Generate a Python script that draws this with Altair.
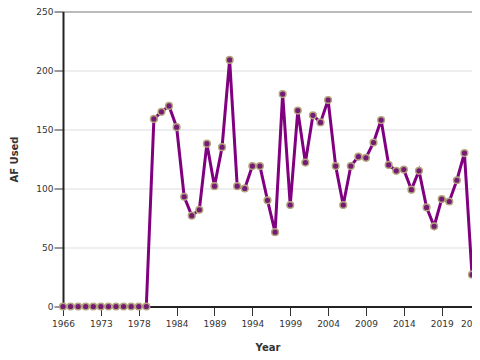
import altair as alt
import pandas as pd

years = [1966, 1967, 1968, 1970, 1971, 1973, 1974, 1975, 1976, 1977, 1978,
         1979, 1980, 1982, 1983, 1984, 1985, 1986, 1987, 1988, 1989, 1990,
         1991, 1992, 1993, 1994, 1995, 1996, 1997, 1998, 1999, 2000, 2001,
         2002, 2003, 2004, 2005, 2006, 2007, 2008, 2009, 2010, 2011, 2012,
         2013, 2014, 2015, 2016, 2017, 2018, 2019, 2020, 2021, 2022, 2023]
af_used = [0, 0, 0, 0, 0, 0, 0, 0, 0, 0, 0, 0,
           159, 165, 170, 152, 93, 77, 82, 138, 102, 135, 209, 102, 100,
           119, 119, 90, 63, 180, 86, 166, 122, 162, 156, 175, 119, 86,
           119, 127, 126, 139, 158, 120, 115, 116, 99, 115, 84, 68, 91,
           89, 107, 130, 27]
tick_years = [1966, 1973, 1978, 1984, 1989, 1994, 1999, 2004, 2009, 2014, 2019, 2023]
y_ticks = [0, 50, 100, 150, 200, 250]

df = pd.DataFrame({"Year": years, "AF Used": af_used})

x = alt.X("Year:O", sort=years,
          scale=alt.Scale(type="point", padding=0),
          axis=alt.Axis(values=tick_years, labelAngle=0, title="Year",
                        grid=False, tickSize=9, labelPadding=4,
                        titlePadding=14))
y = alt.Y("AF Used:Q", scale=alt.Scale(domain=[0, 250], nice=False),
          axis=alt.Axis(values=y_ticks, title="AF Used", grid=True,
                        tickSize=9, labelPadding=1, titlePadding=16))

line = alt.Chart(df).mark_line(color="#800080", strokeWidth=3).encode(x=x, y=y)
points = alt.Chart(df).mark_point(filled=True, fill="#751a75", stroke="#b3a67c",
                                  strokeWidth=1.5, size=45, opacity=1).encode(x=x, y=y)

chart = (line + points).properties(
    width=409, height=295,
    autosize=alt.AutoSizeParams(type="none"),
    padding={"left": 55, "top": 3.5, "right": 0, "bottom": 45},
).configure_axis(
    labelFont="DejaVu Sans", labelFontSize=9, labelColor="#333333",
    titleFont="DejaVu Sans", titleFontSize=10, titleFontWeight="bold",
    titleColor="#333333",
    domainColor="#222222", domainWidth=2, tickColor="#333333", tickWidth=1,
    gridColor="#dddddd", gridWidth=1,
).configure_view(stroke="#333333", strokeWidth=1)

chart.save("out.html", embed_options={"renderer": "svg", "actions": False})
